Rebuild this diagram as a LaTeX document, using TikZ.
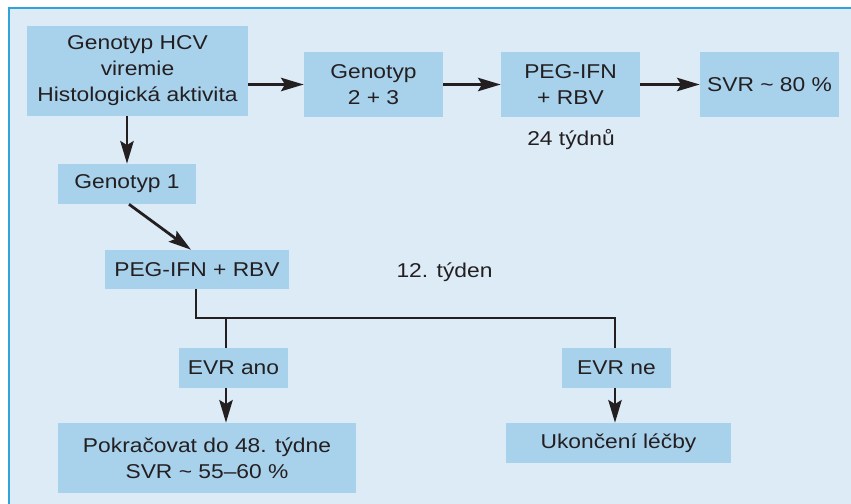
\documentclass[tikz,border=0pt]{standalone}
\usepackage{fontspec}
\setmainfont[FakeStretch=1.14]{Liberation Sans}
\usetikzlibrary{arrows.meta,calc}
\definecolor{bgblue}{HTML}{DDEBF6}
\definecolor{boxblue}{HTML}{A8D1EC}
\definecolor{frameblue}{HTML}{2FA3DC}
\definecolor{ink}{HTML}{231F20}
\tikzset{
  bx/.style={fill=boxblue, inner sep=0pt, text=ink, align=center,
    font=\fontsize{15}{19.5}\selectfont},
  lbl/.style={inner sep=0pt, text=ink, font=\fontsize{15}{19.5}\selectfont},
  conn/.style={draw=ink, line width=2.1pt, line join=miter},
  arr/.style={conn, -{Stealth[length=17pt, width=10pt, inset=3pt]}}
}
\begin{document}
\begin{tikzpicture}[x=0.75pt, y=-0.75pt]
\useasboundingbox (0,0) rectangle (851,504);
\fill[white] (0,0) rectangle (851,504);
\fill[bgblue] (9,8) rectangle (851,504);
\draw[frameblue, line width=0.9pt] (9,504) -- (9,8) -- (851,8);

\node[bx, minimum width=221*0.75pt, minimum height=90*0.75pt] (A) at (137.5,71)
  {Genotyp HCV\\viremie\\Histologická aktivita};
\node[bx, minimum width=139*0.75pt, minimum height=65*0.75pt] (B) at (373.5,84.5) {Genotyp\\2 + 3};
\node[bx, minimum width=139*0.75pt, minimum height=65*0.75pt] (C) at (570.5,84.5) {PEG-IFN\\+ RBV};
\node[bx, minimum width=139*0.75pt, minimum height=65*0.75pt] (D) at (769.5,84.5) {SVR \textasciitilde{} 80 \%};
\node[lbl] (W24) at (571,140) {24 týdnů};

\node[bx, minimum width=138*0.75pt, minimum height=40*0.75pt] (E) at (127,184) {Genotyp 1};
\node[bx, minimum width=184*0.75pt, minimum height=39*0.75pt] (F) at (197,269.5) {PEG-IFN + RBV};
\node[lbl] (W12) at (444.5,272) {12. týden};

\node[bx, minimum width=109*0.75pt, minimum height=40*0.75pt] (G) at (233.5,368) {EVR ano};
\node[bx, minimum width=109*0.75pt, minimum height=40*0.75pt] (H) at (616.5,368) {EVR ne};
\node[bx, minimum width=298*0.75pt, minimum height=70*0.75pt] (I) at (207,458)
  {Pokračovat do 48. týdne\\SVR \textasciitilde{} 55–60 \%};
\node[bx, minimum width=225*0.75pt, minimum height=40*0.75pt] (J) at (618.5,443) {Ukončení léčby};

\coordinate (bus) at (196,318);
\coordinate (bj) at (226,318);
\coordinate (hx) at (615,318);

\draw[arr] (A.east |- B.west) -- (B.west);
\draw[arr] (B.east) -- (C.west);
\draw[arr] (C.east) -- (D.west);
\draw[arr] (E.north |- A.south) -- (E.north);
\draw[arr] ($(E.south)+(2,0)$) -- ($(F.north)+(-6,0)$);
\draw[conn] (bus |- F.south) -- (bus) -- (hx) -- (hx |- H.north);
\draw[conn] (bj) -- (bj |- G.north);
\draw[arr] (bj |- G.south) -- (bj |- I.north);
\draw[arr] (hx |- H.south) -- (hx |- J.north);
\end{tikzpicture}
\end{document}
